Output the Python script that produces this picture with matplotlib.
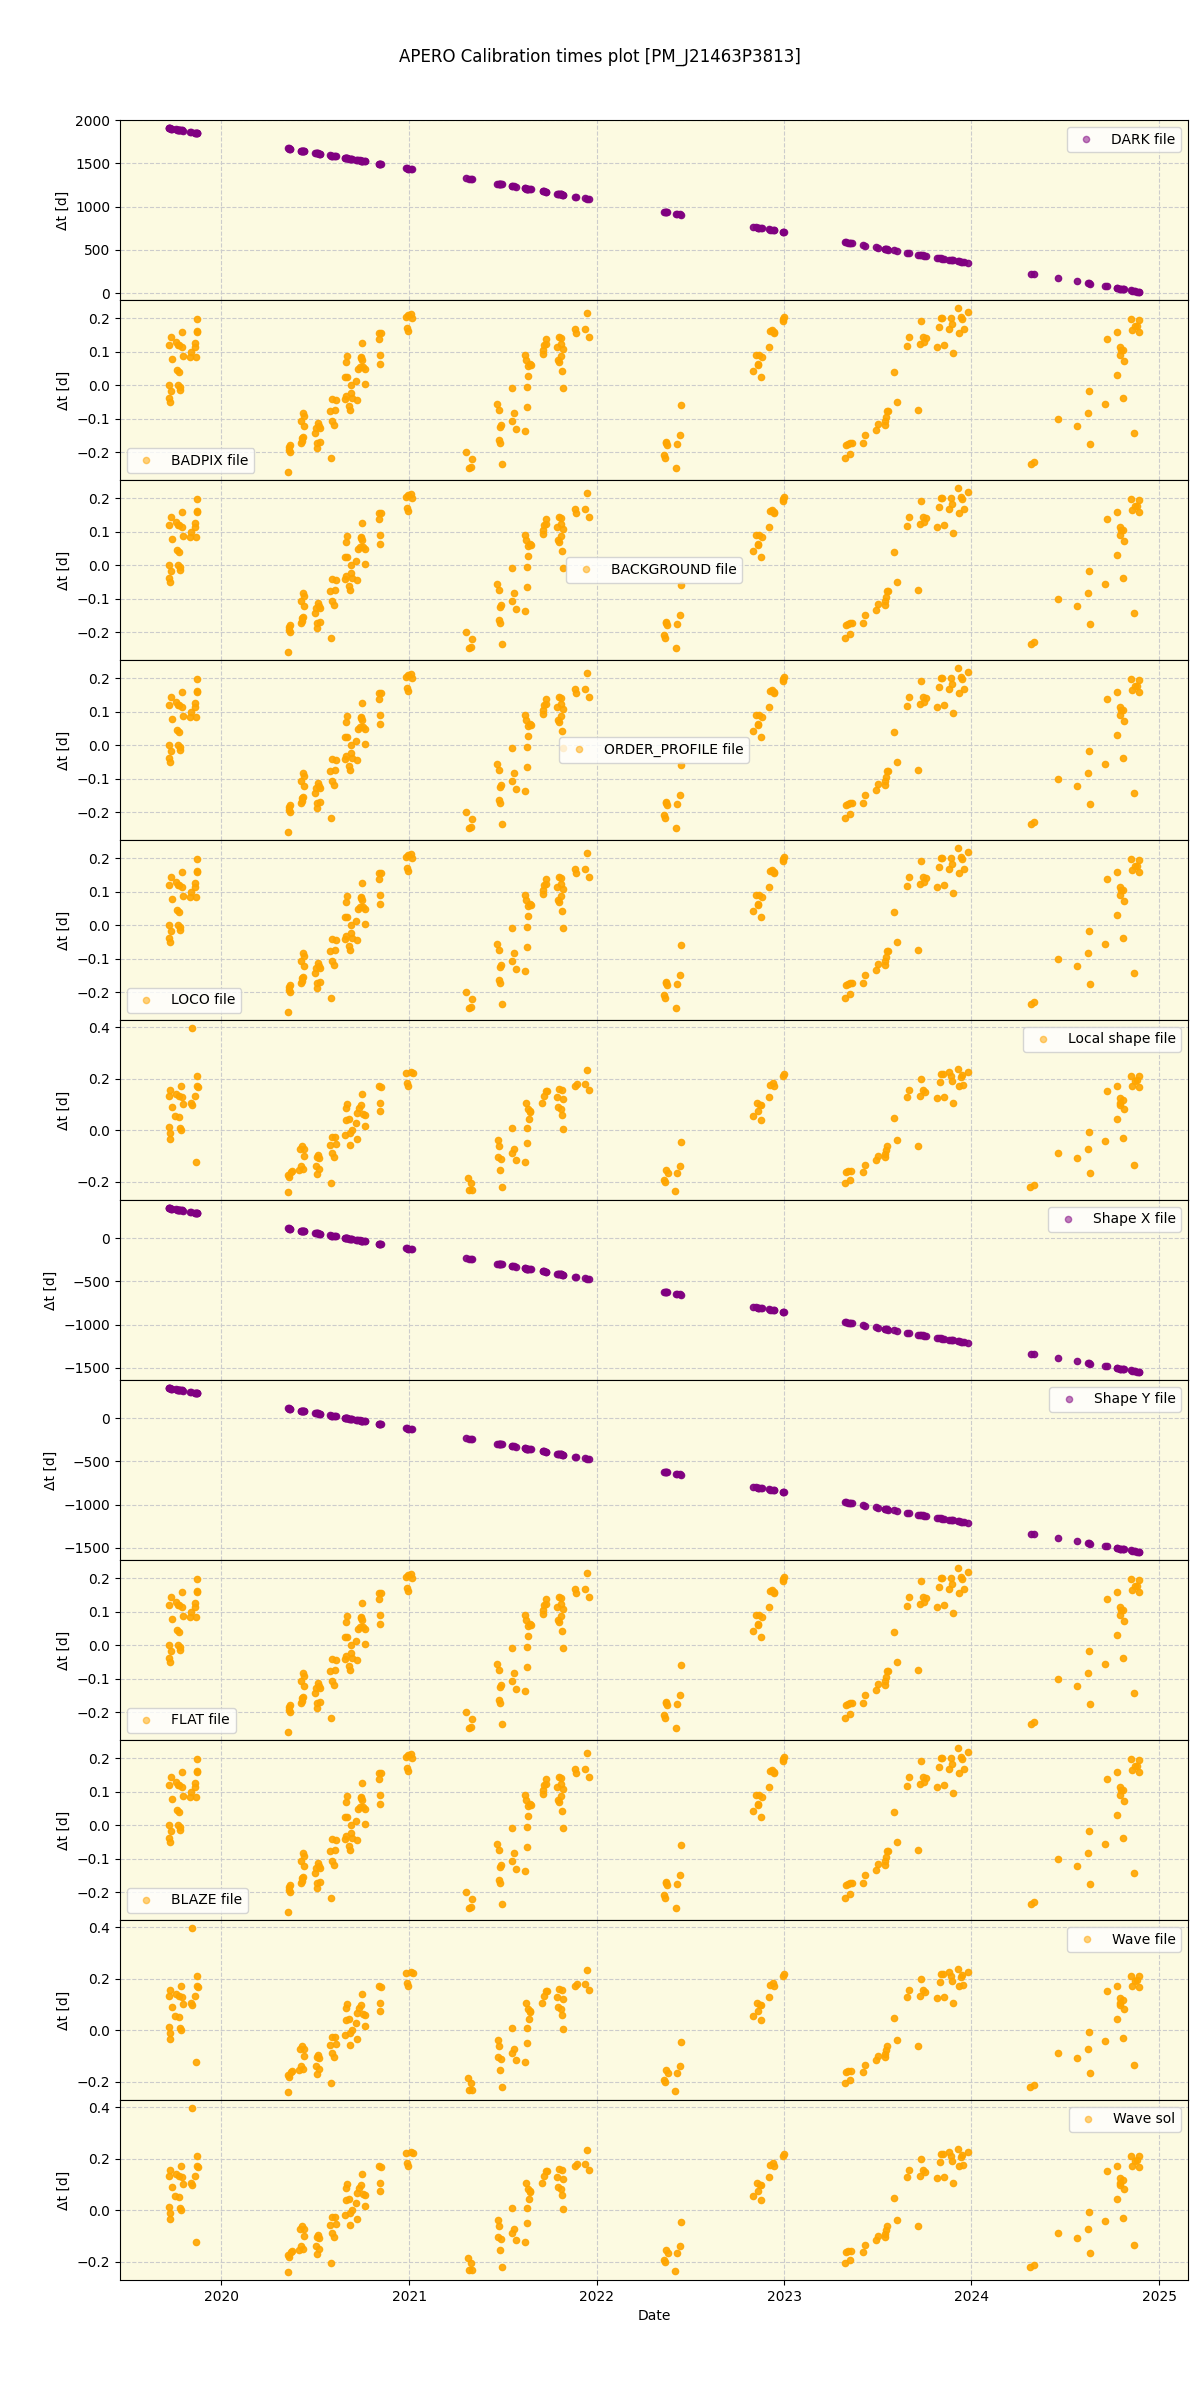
from datetime import datetime
import matplotlib
matplotlib.use("Agg")
import matplotlib.pyplot as plt

# observation dates (decimal year) and dt [d] for the "static" calibrations
cal_dates = [
    2019.719, 2019.723, 2019.726, 2019.732, 2019.719, 2019.730, 2019.737, 2019.758, 2019.762,
    2019.767, 2019.769, 2019.772, 2019.776, 2019.780, 2019.781, 2019.788, 2019.788, 2019.794,
    2019.835, 2019.838, 2019.858, 2019.858, 2019.863, 2019.868, 2019.870, 2019.868,
    2020.353, 2020.360, 2020.362, 2020.363, 2020.366,
    2020.425, 2020.430, 2020.425, 2020.428, 2020.434, 2020.437, 2020.437, 2020.436,
    2020.500, 2020.509, 2020.523, 2020.509, 2020.514, 2020.505, 2020.519, 2020.523,
    2020.585, 2020.580, 2020.590, 2020.608, 2020.599, 2020.588, 2020.603,
    2020.656, 2020.665, 2020.660, 2020.670, 2020.665, 2020.668, 2020.683, 2020.679,
    2020.692, 2020.692, 2020.695, 2020.722,
    2020.718, 2020.727, 2020.736, 2020.745, 2020.750, 2020.754, 2020.766, 2020.764, 2020.748, 2020.741,
    2020.837, 2020.848, 2020.837, 2020.843, 2020.843,
    2020.981, 2020.994, 2021.008, 2021.015, 2020.988, 2020.994,
    2021.305, 2021.335, 2021.328, 2021.319, 2021.495,
    2021.470, 2021.477, 2021.483, 2021.488, 2021.479, 2021.484,
    2021.548, 2021.557, 2021.547, 2021.570, 2021.618, 2021.628, 2021.628,
    2021.620, 2021.625, 2021.632, 2021.643, 2021.636, 2021.648,
    2021.714, 2021.719, 2021.728, 2021.732, 2021.716,
    2021.797, 2021.810, 2021.812, 2021.788, 2021.820, 2021.794, 2021.799, 2021.810, 2021.815, 2021.820,
    2021.886, 2021.888, 2021.936, 2021.948, 2021.959,
    2022.359, 2022.366, 2022.368, 2022.375, 2022.372, 2022.423, 2022.428, 2022.443, 2022.450,
    2022.834, 2022.860, 2022.862, 2022.876, 2022.848, 2022.866, 2022.882, 2022.919, 2022.923,
    2022.937, 2022.948, 2022.944, 2022.992, 2022.999, 2022.996,
    2023.324, 2023.332, 2023.340, 2023.353, 2023.362, 2023.351, 2023.420, 2023.431, 2023.488,
    2023.500, 2023.538, 2023.541, 2023.545, 2023.550, 2023.556, 2023.584, 2023.602,
    2023.655, 2023.666, 2023.714, 2023.726, 2023.730, 2023.740, 2023.755, 2023.749, 2023.815,
    2023.852, 2023.829, 2023.838, 2023.842, 2023.879, 2023.892, 2023.895, 2023.900, 2023.927,
    2023.932, 2023.945, 2023.948, 2023.959, 2023.980,
    2024.315, 2024.332, 2024.460, 2024.562, 2024.620, 2024.626, 2024.631, 2024.711, 2024.722,
    2024.775, 2024.775, 2024.793, 2024.795, 2024.791, 2024.807, 2024.812, 2024.807,
    2024.850, 2024.855, 2024.866, 2024.869, 2024.882, 2024.892, 2024.892,
]
cal_dt = [
    0.000, -0.037, -0.050, -0.017, 0.121, 0.143, 0.077, 0.130, 0.045,
    0.120, 0.000, 0.040, 0.120, -0.007, -0.015, 0.115, 0.160, 0.088,
    0.085, 0.098, 0.125, 0.115, 0.085, 0.197, 0.162, 0.158,
    -0.259, -0.186, -0.195, -0.200, -0.180,
    -0.108, -0.159, -0.174, -0.166, -0.083, -0.093, -0.123, -0.155,
    -0.143, -0.174, -0.171, -0.189, -0.113, -0.128, -0.123, -0.128,
    -0.219, -0.078, -0.042, -0.044, -0.118, -0.108, -0.073,
    -0.042, -0.032, 0.023, 0.023, 0.069, 0.087, -0.073, -0.063,
    0.000, -0.022, -0.037, -0.044,
    0.013, 0.048, 0.054, 0.084, 0.074, 0.054, 0.048, 0.003, 0.126, 0.081,
    0.155, 0.155, 0.139, 0.091, 0.062,
    0.205, 0.210, 0.213, 0.200, 0.170, 0.163,
    -0.200, -0.221, -0.246, -0.247, -0.237,
    -0.055, -0.075, -0.125, -0.118, -0.164, -0.174,
    -0.008, -0.083, -0.106, -0.131, -0.137, -0.065, -0.005,
    0.089, 0.074, 0.057, 0.064, 0.028, 0.061,
    0.094, 0.119, 0.137, 0.124, 0.104,
    0.144, 0.141, 0.124, 0.114, 0.107, 0.074, 0.069, 0.087, 0.043, -0.009,
    0.167, 0.155, 0.167, 0.217, 0.144,
    -0.209, -0.219, -0.169, -0.179, -0.174, -0.249, -0.177, -0.150, -0.058,
    0.042, 0.059, 0.063, 0.025, 0.091, 0.089, 0.085, 0.114, 0.162,
    0.165, 0.157, 0.160, 0.198, 0.203, 0.192,
    -0.219, -0.179, -0.176, -0.174, -0.172, -0.206, -0.174, -0.148, -0.133,
    -0.115, -0.118, -0.108, -0.095, -0.078, -0.076, 0.039, -0.051,
    0.117, 0.144, -0.073, 0.124, 0.192, 0.144, 0.141, 0.129, 0.114,
    0.119, 0.175, 0.202, 0.200, 0.167, 0.200, 0.182, 0.097, 0.230,
    0.157, 0.205, 0.198, 0.167, 0.218,
    -0.236, -0.229, -0.100, -0.123, -0.083, -0.017, -0.177, -0.055, 0.139,
    0.158, 0.030, 0.114, 0.106, 0.089, 0.104, 0.073, -0.039,
    0.198, 0.165, -0.143, 0.177, 0.177, 0.195, 0.160,
]

# local shape / wave files
wave_dates = [
    2019.718, 2019.728, 2019.759, 2019.772, 2019.787, 2019.792, 2019.796, 2019.869, 2019.871,
    2019.875, 2019.857, 2019.836, 2019.842, 2019.737, 2019.754, 2019.772, 2019.718, 2019.726,
    2019.726, 2019.778, 2019.783, 2019.842, 2019.863,
    2020.356, 2020.352, 2020.362, 2020.371, 2020.374,
    2020.415, 2020.426, 2020.433, 2020.420, 2020.429, 2020.438, 2020.442,
    2020.503, 2020.510, 2020.517, 2020.507, 2020.516, 2020.521,
    2020.583, 2020.576, 2020.591, 2020.606, 2020.598, 2020.591, 2020.610,
    2020.659, 2020.665, 2020.668, 2020.665, 2020.677,
    2020.683, 2020.686, 2020.696, 2020.714, 2020.723,
    2020.723, 2020.732, 2020.741, 2020.747, 2020.751, 2020.764, 2020.765,
    2020.841, 2020.852, 2020.843, 2020.846,
    2020.984, 2021.008, 2021.021, 2020.986, 2020.995,
    2021.311, 2021.329, 2021.320, 2021.333, 2021.494,
    2021.473, 2021.480, 2021.476, 2021.489, 2021.482,
    2021.546, 2021.546, 2021.559, 2021.568, 2021.618, 2021.629, 2021.629,
    2021.623, 2021.632, 2021.642, 2021.638, 2021.645,
    2021.709, 2021.718, 2021.728, 2021.733,
    2021.788, 2021.801, 2021.816, 2021.820, 2021.792, 2021.807, 2021.816, 2021.821,
    2021.884, 2021.893, 2021.935, 2021.948, 2021.957,
    2022.360, 2022.365, 2022.371, 2022.378, 2022.420, 2022.429, 2022.444, 2022.452,
    2022.834, 2022.861, 2022.856, 2022.870, 2022.879, 2022.876, 2022.920, 2022.925, 2022.940,
    2022.944, 2022.994, 2022.999,
    2023.324, 2023.330, 2023.339, 2023.357, 2023.351, 2023.421, 2023.430, 2023.489, 2023.499,
    2023.537, 2023.541, 2023.546, 2023.550, 2023.587, 2023.601,
    2023.654, 2023.666, 2023.715, 2023.724, 2023.730, 2023.743, 2023.752, 2023.816, 2023.853,
    2023.831, 2023.840, 2023.847, 2023.881, 2023.890, 2023.895, 2023.902, 2023.926, 2023.932,
    2023.944, 2023.950, 2023.957, 2023.981,
    2024.312, 2024.331, 2024.459, 2024.560, 2024.619, 2024.624, 2024.630, 2024.711, 2024.722,
    2024.775, 2024.775, 2024.789, 2024.793, 2024.789, 2024.808, 2024.812, 2024.808,
    2024.850, 2024.854, 2024.863, 2024.869, 2024.882, 2024.891, 2024.894,
]
wave_dt = [
    0.134, 0.155, 0.141, 0.134, 0.173, 0.128, 0.101, 0.210, 0.173,
    0.168, 0.131, 0.105, 0.098, 0.089, 0.056, 0.052, 0.010, -0.013,
    -0.035, 0.007, 0.000, 0.396, -0.126,
    -0.240, -0.173, -0.183, -0.164, -0.160,
    -0.157, -0.138, -0.151, -0.072, -0.063, -0.072, -0.102,
    -0.138, -0.170, -0.151, -0.105, -0.096, -0.108,
    -0.206, -0.059, -0.026, -0.026, -0.105, -0.089, -0.056,
    -0.020, 0.039, 0.101, 0.085, 0.042,
    -0.059, -0.013, 0.000, 0.026, -0.033,
    0.065, 0.085, 0.098, 0.141, 0.062, 0.059, 0.016,
    0.170, 0.166, 0.107, 0.076,
    0.220, 0.225, 0.220, 0.181, 0.173,
    -0.186, -0.207, -0.233, -0.233, -0.223,
    -0.039, -0.062, -0.105, -0.111, -0.157,
    0.007, -0.089, -0.072, -0.118, -0.124, -0.052, 0.007,
    0.105, 0.081, 0.072, 0.042, 0.076,
    0.105, 0.134, 0.151, 0.153,
    0.128, 0.160, 0.155, 0.120, 0.089, 0.081, 0.059, 0.004,
    0.170, 0.179, 0.179, 0.232, 0.157,
    -0.196, -0.203, -0.157, -0.168, -0.236, -0.166, -0.138, -0.046,
    0.056, 0.076, 0.105, 0.098, 0.098, 0.039, 0.128, 0.177, 0.183,
    0.170, 0.212, 0.219,
    -0.206, -0.164, -0.161, -0.160, -0.194, -0.164, -0.136, -0.118, -0.102,
    -0.105, -0.092, -0.076, -0.063, 0.048, -0.039,
    0.127, 0.157, -0.063, 0.134, 0.199, 0.157, 0.147, 0.124, 0.128,
    0.186, 0.216, 0.219, 0.225, 0.212, 0.190, 0.107, 0.238, 0.170,
    0.207, 0.213, 0.177, 0.227,
    -0.223, -0.213, -0.088, -0.107, -0.072, -0.007, -0.166, -0.042, 0.151,
    0.170, 0.042, 0.124, 0.105, 0.098, 0.115, 0.083, -0.029,
    0.210, 0.173, -0.134, 0.190, 0.193, 0.210, 0.168,
]

# reference dates of the single calibration files
dark_ref = datetime(2024, 12, 8)
shape_ref = datetime(2020, 8, 31)

panels = ['DARK file', 'BADPIX file', 'BACKGROUND file', 'ORDER_PROFILE file', 'LOCO file',
          'Local shape file', 'Shape X file', 'Shape Y file', 'FLAT file', 'BLAZE file',
          'Wave file', 'Wave sol']
legend_loc = ['upper right', 'lower left', 'center', 'center', 'lower left', 'upper right',
              'upper right', 'upper right', 'lower left', 'lower left', 'upper right', 'upper right']


def to_date(y):
    yr = int(y)
    start = datetime(yr, 1, 1)
    return start + (datetime(yr + 1, 1, 1) - start) * (y - yr)


cal_x = [to_date(d) for d in cal_dates]
wave_x = [to_date(d) for d in wave_dates]
dark_dt = [(dark_ref - d).total_seconds() / 86400 for d in cal_x]
shape_dt = [(shape_ref - d).total_seconds() / 86400 for d in cal_x]

series = {
    'DARK file': (cal_x, dark_dt, 'purple'),
    'Shape X file': (cal_x, shape_dt, 'purple'),
    'Shape Y file': (cal_x, shape_dt, 'purple'),
    'Local shape file': (wave_x, wave_dt, 'orange'),
    'Wave file': (wave_x, wave_dt, 'orange'),
    'Wave sol': (wave_x, wave_dt, 'orange'),
}

fig, axes = plt.subplots(12, 1, figsize=(12, 24), sharex=True)
fig.subplots_adjust(left=0.1, right=0.99, top=0.95, bottom=0.05, hspace=0)

for ax, name, loc in zip(axes, panels, legend_loc):
    x, y, col = series.get(name, (cal_x, cal_dt, 'orange'))
    ax.plot(x, y, 'o', color=col, ms=4.5, alpha=0.9, label=name)
    ax.set_facecolor('#fcfae1')
    ax.grid(True, color='0.8', linestyle='--')
    ax.set_ylabel('Δt [d]')
    leg = ax.legend(loc=loc)
    for h in leg.legend_handles:
        h.set_alpha(0.5)

axes[-1].set_xlabel('Date')
fig.suptitle('APERO Calibration times plot [PM_J21463P3813]', fontsize=12)
fig.savefig('out.png', dpi=100)
